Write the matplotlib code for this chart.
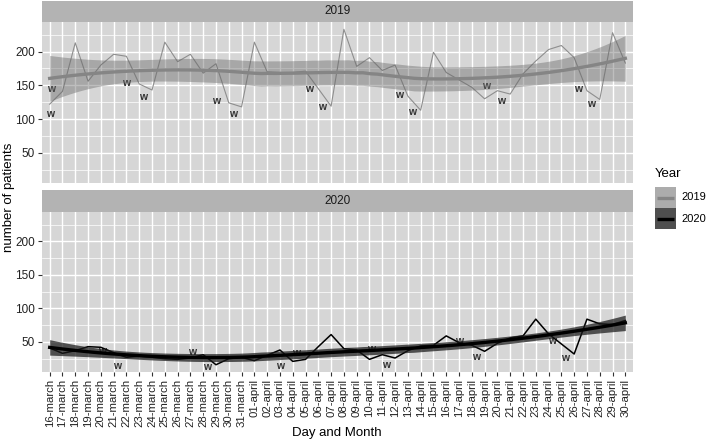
import numpy as np
import matplotlib
matplotlib.use('Agg')
import matplotlib.pyplot as plt
from matplotlib.patches import Rectangle
from matplotlib.ticker import MultipleLocator

plt.rcParams['font.family'] = ['Liberation Sans', 'DejaVu Sans']

# categories on the x axis
days = ['16-march', '17-march', '18-march', '19-march', '20-march', '21-march',
        '22-march', '23-march', '24-march', '25-march', '26-march', '27-march',
        '28-march', '29-march', '30-march', '31-march',
        '01-april', '02-april', '03-april', '04-april', '05-april', '06-april',
        '07-april', '08-april', '09-april', '10-april', '11-april', '12-april',
        '13-april', '14-april', '15-april', '16-april', '17-april', '18-april',
        '19-april', '20-april', '21-april', '22-april', '23-april', '24-april',
        '25-april', '26-april', '27-april', '28-april', '29-april', '30-april']

patients_2019 = [122, 141, 213, 156, 180, 196, 193, 152, 143, 214, 185, 196,
                 168, 182, 124, 118, 214, 170, 169, 169, 171, 145, 119, 233,
                 178, 191, 172, 180, 134, 113, 199, 169, 158, 147, 130, 142,
                 137, 167, 186, 203, 209, 191, 142, 129, 228, 183]
patients_2020 = [41, 33, 37, 43, 42, 34, 27, 29, 27, 25, 24, 26,
                 31, 16, 25, 27, 22, 30, 38, 21, 24, 43, 61, 40,
                 38, 24, 31, 26, 37, 44, 45, 59, 49, 45, 36, 48,
                 56, 59, 84, 62, 47, 32, 84, 77, 76, 82]

# weekend markers ("w"): day index and height
w_2019_x = [0.1, 0.0, 6.0, 7.3, 13.0, 14.3, 20.3, 21.3, 27.3, 28.3, 34.1, 35.3, 41.3, 42.3]
w_2019_y = [144, 108, 154, 133, 127, 108, 144, 118, 136, 110, 149, 127, 145, 122]
w_2020_x = [4.1, 5.3, 11.1, 12.3, 18.0, 19.3, 25.1, 26.3, 32.0, 33.3, 39.3, 40.3]
w_2020_y = [36, 14, 35, 13, 14, 34, 40, 16, 51, 27, 52, 26]

years = ['2019', '2020']
line_colors = ['#8e8e8e', '#000000']
smooth_colors = ['#858585', '#000000']
ribbon_colors = ['#666666', '#1a1a1a']
ribbon_alpha = [0.42, 0.72]
key_colors = ['#acacac', '#4f4f4f']


def t975(df):
    z = 1.959964
    return z + (z**3 + z) / (4 * df) + (5 * z**5 + 16 * z**3 + 3 * z) / (96 * df**2)


def loess(x, y, xs, span=0.75):
    # local quadratic fit with tricube weights (like R's loess defaults)
    n = len(x)
    q = int(np.floor(n * span))

    def row(x0):
        d = np.abs(x - x0)
        h = np.sort(d)[q - 1]
        w = np.clip(1 - (d / h) ** 3, 0, None) ** 3
        X = np.column_stack([np.ones(n), x - x0, (x - x0) ** 2])
        XtW = X.T * w
        return np.linalg.solve(XtW @ X, XtW)[0]

    L = np.array([row(v) for v in x])
    res = y - L @ y
    M = (np.eye(n) - L).T @ (np.eye(n) - L)
    d1 = np.trace(M)
    d2 = np.trace(M @ M)
    s = np.sqrt(np.sum(res ** 2) / d1)
    Lg = np.array([row(v) for v in xs])
    fit = Lg @ y
    se = s * np.sqrt(np.sum(Lg ** 2, axis=1))
    t = t975(d1 ** 2 / d2)
    return fit, fit - t * se, fit + t * se


x = np.arange(len(days), dtype=float)
xs = np.linspace(0, len(days) - 1, 80)
series = [np.array(patients_2019, float), np.array(patients_2020, float)]
wx = [w_2019_x, w_2020_x]
wy = [w_2019_y, w_2020_y]

lo = min(s.min() for s in series)
hi = max(s.max() for s in series)
pad = 0.05 * (hi - lo)

fig = plt.figure(figsize=(7.08, 4.43), dpi=100)
W, H = 708, 443
panels = [(22, 183, 1), (212, 372, 190)]

for k, (top, bottom, strip_top) in enumerate(panels):
    ax = fig.add_axes([42 / W, (H - bottom) / H, 591 / W, (bottom - top) / H])
    ax.set_facecolor('#d6d6d6')
    for sp in ax.spines.values():
        sp.set_visible(False)
    ax.set_xlim(-0.6, len(days) - 1 + 0.6)
    ax.set_ylim(lo - pad, hi + pad)
    ax.yaxis.set_major_locator(MultipleLocator(50))
    ax.yaxis.set_minor_locator(MultipleLocator(25))
    ax.set_xticks(x)
    ax.grid(which='major', color='white', lw=1.0, zorder=0.5)
    ax.grid(which='minor', axis='y', color='white', lw=0.5, zorder=0.5)
    ax.set_axisbelow(True)
    ax.tick_params(axis='both', which='major', length=3, color='#333333',
                   labelcolor='#222222', labelsize=8.5, pad=2, width=0.8)
    ax.tick_params(axis='y', which='minor', length=0)

    y = series[k]
    for xx, yy in zip(wx[k], wy[k]):
        ax.text(xx, yy, 'w', ha='center', va='center', fontsize=7.5,
                fontweight='bold', color='#333333', zorder=1)
    ax.plot(x, y, color=line_colors[k], lw=0.8 if k == 0 else 1.1, zorder=2)
    fit, low, up = loess(x, y, xs)
    ax.fill_between(xs, low, up, color=ribbon_colors[k], alpha=ribbon_alpha[k],
                    lw=0, zorder=3)
    ax.plot(xs, fit, color=smooth_colors[k], lw=2.4, zorder=4)

    if k == 0:
        ax.tick_params(axis='x', length=0, labelbottom=False)
    else:
        ax.set_xticklabels(days, rotation=90)
        ax.tick_params(axis='x', labelsize=8.2)

    sax = fig.add_axes([42 / W, (H - top) / H, 591 / W, (top - strip_top) / H])
    sax.set_facecolor('#b3b3b3')
    sax.set_xticks([])
    sax.set_yticks([])
    for sp in sax.spines.values():
        sp.set_visible(False)
    sax.text(0.5, 0.5, years[k], ha='center', va='center', fontsize=8.5,
             color='#1a1a1a', transform=sax.transAxes)

fig.text(9 / W, (H - 197) / H, 'number of patients', rotation=90,
         ha='center', va='center', fontsize=9.5)
fig.text(337 / W, (H - 433) / H, 'Day and Month', ha='center', va='center',
         fontsize=9.5)

# legend drawn by hand so the keys are contiguous squares like ggplot's
lax = fig.add_axes([655 / W, (H - 229) / H, 21 / W, 42 / H])
lax.set_xlim(0, 1)
lax.set_ylim(0, 2)
lax.axis('off')
for k in range(2):
    yb = 1 - k
    lax.add_patch(Rectangle((0, yb), 1, 1, facecolor=key_colors[k], edgecolor='none'))
    lax.plot([0.1, 0.9], [yb + 0.5, yb + 0.5], color=smooth_colors[k], lw=2.4,
             solid_capstyle='butt')
    fig.text(681 / W, (H - (197.5 + 21 * k)) / H, years[k], ha='left',
             va='center', fontsize=8)
fig.text(655 / W, (H - 174) / H, 'Year', ha='left', va='center', fontsize=9.5)

fig.savefig('out.png', dpi=100)
